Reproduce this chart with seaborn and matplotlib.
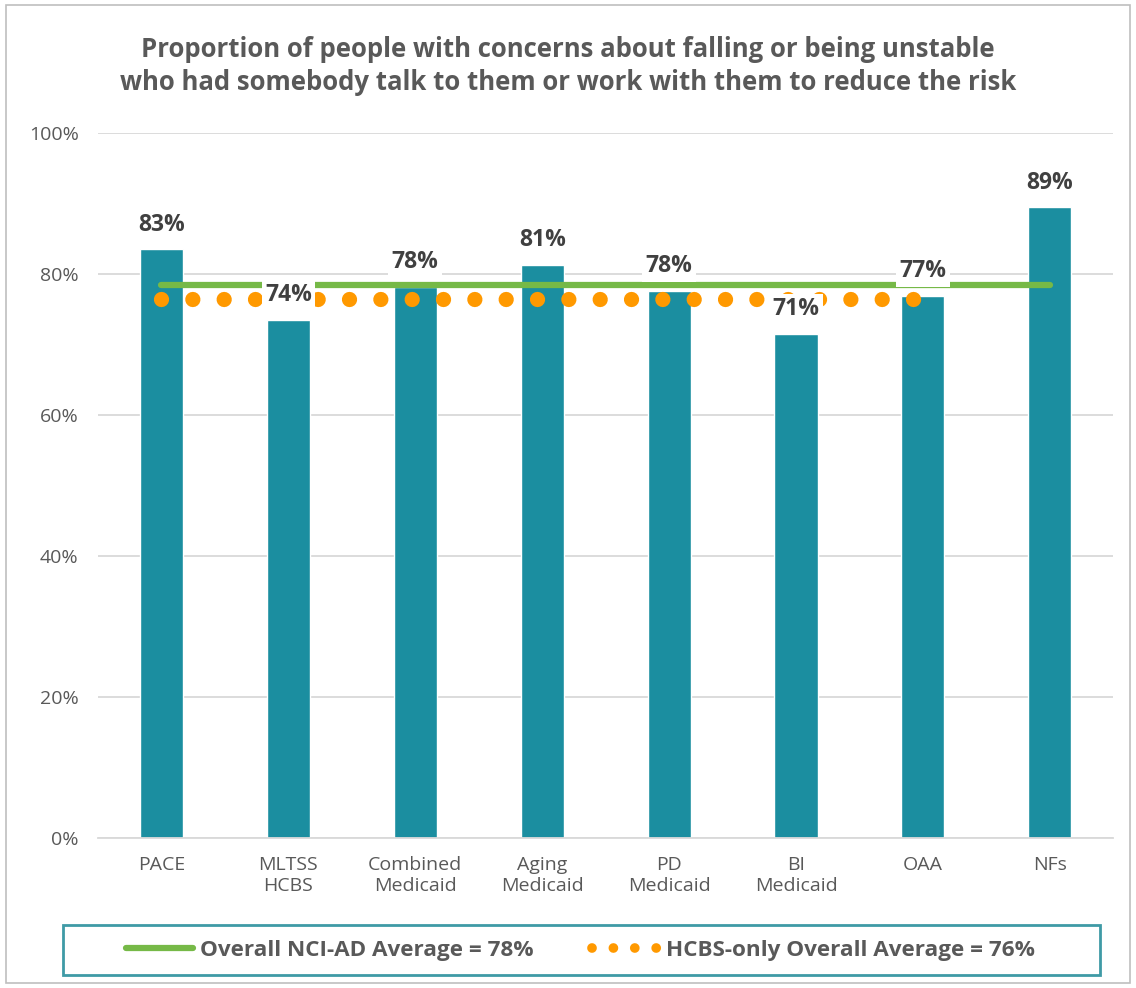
import numpy as np
import pandas as pd
import matplotlib
matplotlib.use("Agg")
import matplotlib.pyplot as plt
import seaborn as sns
from matplotlib.patches import Rectangle
from matplotlib.lines import Line2D

categories = ["PACE", "MLTSS\nHCBS", "Combined\nMedicaid", "Aging\nMedicaid",
              "PD\nMedicaid", "BI\nMedicaid", "OAA", "NFs"]
values = [0.835, 0.735, 0.782, 0.813, 0.776, 0.715, 0.769, 0.895]
labels = ["83%", "74%", "78%", "81%", "78%", "71%", "77%", "89%"]
overall_avg = 0.784
hcbs_avg = 0.765
hcbs_n = 7  # HCBS line spans PACE..OAA

sns.set_theme(style="white")
plt.rcParams['font.family'] = ['Open Sans', 'DejaVu Sans']

TEAL = "#1B8EA0"
GREEN = "#76B947"
ORANGE = "#FF9900"
GRAY = "#595959"

fig = plt.figure(figsize=(11.36, 9.88), dpi=100)
ax = fig.add_axes([0.0863, 0.1518, 0.8937, 0.7136])

df = pd.DataFrame({"cat": categories, "val": values})
sns.barplot(data=df, x="cat", y="val", color=TEAL, width=0.34, saturation=1,
            ax=ax, zorder=2)

x = np.arange(len(categories))
ax.plot(x, [overall_avg] * len(x), color=GREEN, lw=4.5, solid_capstyle="round", zorder=3)
ax.plot(x[:hcbs_n], [hcbs_avg] * hcbs_n, color=ORANGE, lw=11,
        linestyle=(0, (0.001, 2.05)), dash_capstyle="round", zorder=3)

for xi, v, t in zip(x, values, labels):
    ax.annotate(t, (xi, v), xytext=(0, 9), textcoords="offset points",
                ha="center", va="bottom", fontsize=16.5, fontweight="bold", color="#404040",
                bbox=dict(boxstyle="square,pad=0.15", fc="white", ec="none"), zorder=5)

ax.set_ylim(0, 1)
ax.set_xlim(-0.5, 7.5)
ax.set_yticks(np.arange(0, 1.01, 0.2))
ax.set_yticklabels([f"{int(round(t*100))}%" for t in np.arange(0, 1.01, 0.2)])
ax.grid(axis="y", color="#D9D9D9", lw=1.3, zorder=0)
ax.set_axisbelow(True)
for s in ["top", "right", "left"]:
    ax.spines[s].set_visible(False)
ax.spines["bottom"].set_color("#D9D9D9")
ax.spines["bottom"].set_linewidth(1.3)
ax.tick_params(axis="both", length=0, labelsize=14, labelcolor=GRAY)
ax.tick_params(axis="x", pad=13)
ax.tick_params(axis="y", pad=14)
ax.set_xlabel("")
ax.set_ylabel("")

fig.text(0.5, 0.933, "Proportion of people with concerns about falling or being unstable\n"
         "who had somebody talk to them or work with them to reduce the risk",
         ha="center", va="center", fontsize=18.5, fontweight="bold", color=GRAY,
         linespacing=1.3)

# outer chart border
fig.patches.append(Rectangle((0.005, 0.005), 0.99, 0.99, transform=fig.transFigure,
                             fill=False, ec="#BFBFBF", lw=1.2))
# legend box
fig.patches.append(Rectangle((63 / 1136, 1 - 975 / 988), (1100 - 63) / 1136, 50 / 988,
                             transform=fig.transFigure, fill=False, ec="#3F9AA6", lw=2))

handles = [Line2D([], [], color=GREEN, lw=4.5, solid_capstyle="round"),
           Line2D([], [], color=ORANGE, lw=7, linestyle=(0, (0.001, 2.2)),
                  dash_capstyle="round")]
leg = fig.legend(handles, ["Overall NCI-AD Average = 78%", "HCBS-only Overall Average = 76%"],
                 loc="center", bbox_to_anchor=(0.511, 1 - 950 / 988), ncol=2, frameon=False,
                 handlelength=3.0, handletextpad=0.3, columnspacing=2.6,
                 prop=dict(size=16.2, weight="bold"))
for t in leg.get_texts():
    t.set_color(GRAY)

fig.savefig("out.png", dpi=100)
